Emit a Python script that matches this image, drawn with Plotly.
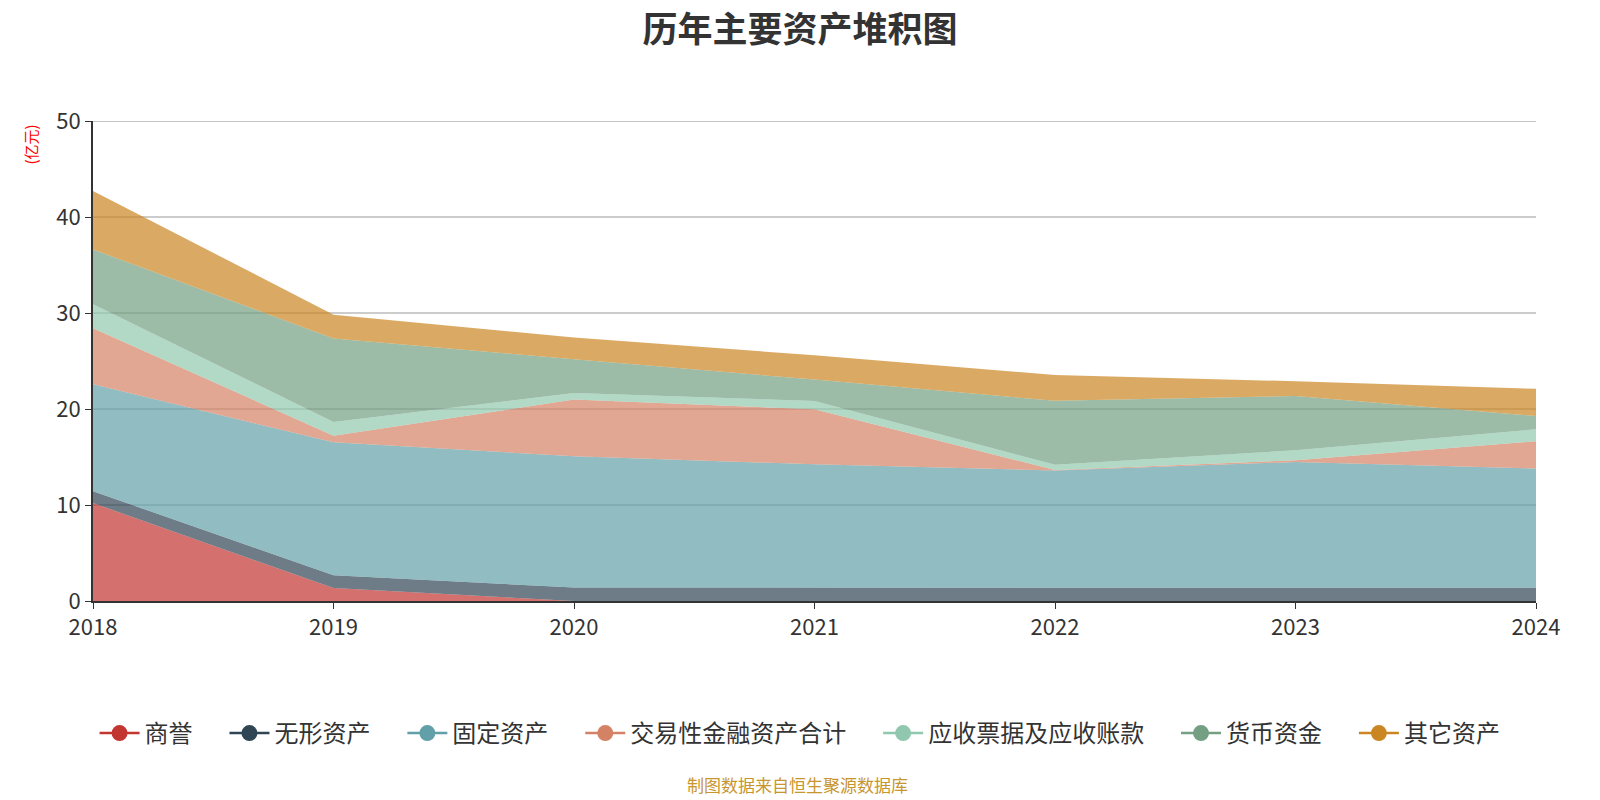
import plotly.graph_objects as go

years = [2018, 2019, 2020, 2021, 2022, 2023, 2024]
goodwill = [10.2, 1.35, 0.0, 0.0, 0.0, 0.0, 0.0]
intangible = [1.23, 1.33, 1.4, 1.38, 1.38, 1.38, 1.38]
fixed_assets = [11.14, 13.85, 13.67, 12.86, 12.22, 13.1, 12.41]
trading_fin = [5.85, 0.69, 5.91, 5.73, 0.05, 0.18, 2.85]
receivables = [2.5, 1.43, 0.69, 0.86, 0.54, 1.04, 1.25]
cash = [5.7, 8.7, 3.51, 2.23, 6.66, 5.65, 1.38]
other = [6.1, 2.47, 2.26, 2.54, 2.7, 1.54, 2.83]

names = ["商誉", "无形资产", "固定资产", "交易性金融资产合计", "应收票据及应收账款", "货币资金", "其它资产"]
series = [goodwill, intangible, fixed_assets, trading_fin, receivables, cash, other]
colors = ["#c23531", "#2f4554", "#61a0a8", "#d48265", "#91c7ae", "#749f83", "#ca8622"]
y_ticks = [0, 10, 20, 30, 40, 50]

def rgba(h, a):
    h = h.lstrip("#")
    r, g, b = int(h[0:2], 16), int(h[2:4], 16), int(h[4:6], 16)
    return f"rgba({r},{g},{b},{a})"

fig = go.Figure()
for name, vals, c in zip(names, series, colors):
    fig.add_trace(go.Scatter(
        x=years, y=vals, name=name, mode="lines", stackgroup="one",
        line=dict(width=0, color=c), fillcolor=rgba(c, 0.7), showlegend=False,
    ))
for i, (name, c) in enumerate(zip(names, colors)):
    pad = "\u00a0" * 5 if i < len(names) - 1 else ""
    fig.add_trace(go.Scatter(
        x=[None], y=[None], name=name + pad, mode="lines+markers",
        line=dict(color=c, width=2.5), marker=dict(color=c, size=20),
        showlegend=True,
    ))

font_family = "Noto Sans CJK SC, Noto Sans, sans-serif"
fig.update_layout(
    width=1600, height=800,
    paper_bgcolor="white", plot_bgcolor="white",
    margin=dict(l=93, r=64, t=121, b=199),
    font=dict(family=font_family, color="#333333", size=22),
    title=dict(text="<b>历年主要资产堆积图</b>", x=0.5, xanchor="center", y=0.963, yanchor="middle",
               font=dict(size=35, color="#333333", family=font_family)),
    xaxis=dict(range=[2018, 2024], tickvals=years, ticktext=[str(y) for y in years],
               showgrid=False, zeroline=False, showline=True, linecolor="#333333", linewidth=2,
               ticks="outside", ticklen=6, tickcolor="#333333", tickfont=dict(size=22, color="#333333")),
    yaxis=dict(range=[0, 50], tickvals=y_ticks, showgrid=True, gridcolor="#cccccc", gridwidth=1.5,
               zeroline=False, showline=True, linecolor="#333333", linewidth=2,
               ticks="outside", ticklen=6, tickcolor="#333333", tickfont=dict(size=22, color="#333333")),
    legend=dict(orientation="h", x=0.49, xanchor="center", y=-0.276, yanchor="middle",
                font=dict(size=24, color="#333333"), itemwidth=40, traceorder="normal",
                bgcolor="rgba(0,0,0,0)"),
    shapes=[dict(type="line", xref="paper", yref="y", x0=0, x1=1, y0=y_ticks[-1], y1=y_ticks[-1],
                 line=dict(color="#c4c4c4", width=2), layer="below")],
    annotations=[
        dict(text="(亿元)", xref="paper", yref="paper", x=-0.044, y=0.95, showarrow=False,
             textangle=-90, font=dict(size=15, color="#ff0000"), xanchor="center", yanchor="middle"),
        dict(text="制图数据来自恒生聚源数据库", xref="paper", yref="paper", x=0.488, y=-0.383,
             showarrow=False, font=dict(size=17, color="#c8962e"), xanchor="center", yanchor="middle"),
    ],
)

fig.write_html("out.html")
